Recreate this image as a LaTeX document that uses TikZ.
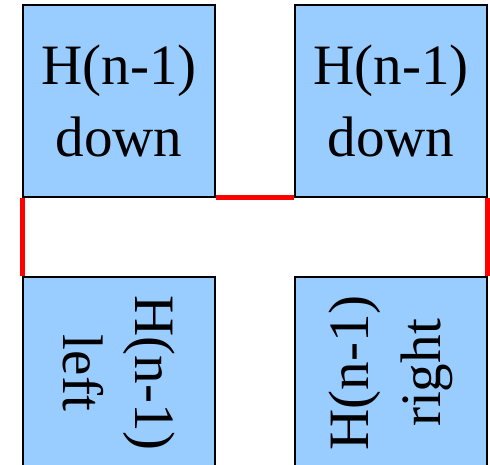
\documentclass[tikz,border=0pt]{standalone}
\usepackage{fontspec}
\setmainfont{Liberation Serif}
\usetikzlibrary{positioning}
\usepackage{xcolor}
\definecolor{boxblue}{RGB}{153,204,255}

\begin{document}
\begin{tikzpicture}[x=0.02cm, y=-0.02cm,
    block/.style={rectangle, draw=black, line width=1.1pt, fill=boxblue, minimum width=3.84cm, minimum height=3.84cm, inner sep=0pt, align=center, font=\fontsize{32.5}{41}\selectfont},
    link/.style={draw=red, line width=2.8pt}
]
\useasboundingbox (0,0) rectangle (490,465);

% Sub-curves
\node[block] (tl) at (119,101) {H(n-1)\\down};
\node[block] (tr) at (391,101) {H(n-1)\\down};
\node[block, rotate=-90] (bl) at (119,373) {H(n-1)\\left};
\node[block, rotate=90] (br) at (391,373) {H(n-1)\\right};

% Joining lines
\draw[link] (bl.west -| tl.south west) -- (tl.south west);
\draw[link] (tl.south east) -- (tr.south west);
\draw[link] (tr.south east) -- (br.east -| tr.south east);
\end{tikzpicture}
\end{document}
